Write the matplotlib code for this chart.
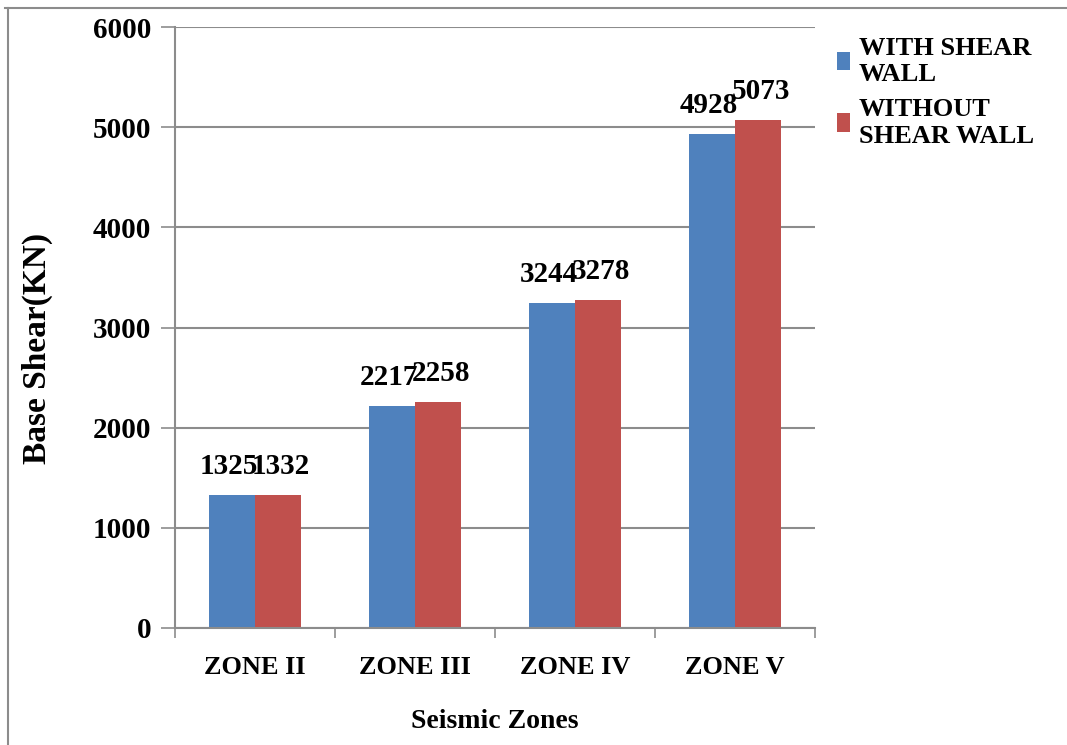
import numpy as np
import matplotlib.pyplot as plt
from matplotlib.lines import Line2D

# Base shear per seismic zone
zones = ["ZONE II", "ZONE III", "ZONE IV", "ZONE V"]
with_wall = [1325, 2217, 3244, 4928]
without_wall = [1332, 2258, 3278, 5073]
series_names = ["WITH SHEAR\nWALL", "WITHOUT\nSHEAR WALL"]

blue = "#4F81BD"
red = "#C0504D"
grid_col = "#8C8C8C"

plt.rcParams["font.family"] = ["Liberation Serif", "DejaVu Serif"]
plt.rcParams["font.weight"] = "bold"

fig = plt.figure(figsize=(10.67, 7.45), dpi=100)
ax = fig.add_axes([175 / 1067, 1 - 628 / 745, 640 / 1067, 601 / 745])

x = np.arange(len(zones))
w = 0.2875
b1 = ax.bar(x - w / 2, with_wall, w, color=blue, label=series_names[0])
b2 = ax.bar(x + w / 2, without_wall, w, color=red, label=series_names[1])

# value labels, nudged apart a little so neighbours don't collide
for bars, vals, dx in ((b1, with_wall, -0.02), (b2, without_wall, 0.02)):
    for rect, v in zip(bars, vals):
        ax.text(rect.get_x() + rect.get_width() / 2 + dx, v + 150, str(v),
                ha="center", va="bottom", fontsize=21, fontweight="bold")

ax.set_xlim(-0.5, len(zones) - 0.5)
ax.set_ylim(0, 6000)
ax.set_yticks(range(0, 6001, 1000))
ax.yaxis.grid(True, color=grid_col, linewidth=1.5)
ax.set_axisbelow(True)

# category boundary ticks on the x axis
ax.set_xticks(np.arange(-0.5, len(zones), 1.0))
ax.set_xticklabels([])
ax.set_xticks(x, minor=True)
ax.set_xticklabels(zones, minor=True)
ax.tick_params(axis="x", which="minor", length=0, pad=20, labelsize=19)
ax.tick_params(axis="x", which="major", length=7, width=1.2, color=grid_col,
               direction="out")
ax.tick_params(axis="y", length=10, width=1.2, color=grid_col, labelsize=21,
               pad=7)

for s in ("top", "right"):
    ax.spines[s].set_visible(False)
for s in ("left", "bottom"):
    ax.spines[s].set_color(grid_col)
    ax.spines[s].set_linewidth(1.5)

ax.set_xlabel("Seismic Zones", fontsize=20, fontweight="bold", labelpad=22)
ax.set_ylabel("Base Shear(KN)", fontsize=24, fontweight="bold")
ax.yaxis.set_label_coords(-122 / 640, 0.465)

leg = fig.legend(loc="upper left", bbox_to_anchor=(826 / 1067, 1 - 26 / 745),
                 frameon=False, fontsize=19, handlelength=0.5,
                 handleheight=0.7, handletextpad=0.35, labelspacing=0.45,
                 borderaxespad=0)

# outer frame edges
fig.add_artist(Line2D([5 / 1067, 1], [1 - 8 / 745] * 2, color=grid_col,
                      linewidth=1.5, transform=fig.transFigure))
fig.add_artist(Line2D([8 / 1067] * 2, [0, 1 - 8 / 745], color=grid_col,
                      linewidth=1.5, transform=fig.transFigure))

fig.savefig("out.png", dpi=100)
